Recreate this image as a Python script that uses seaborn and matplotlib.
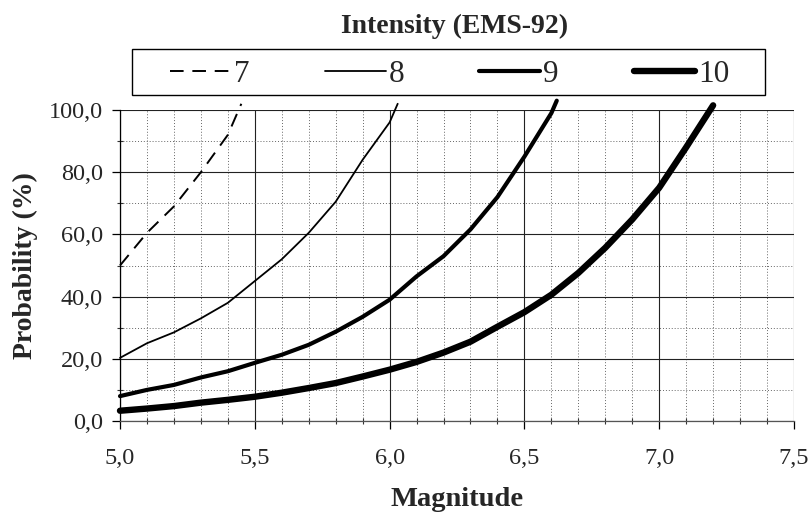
import matplotlib
matplotlib.use("Agg")
import matplotlib.pyplot as plt
from matplotlib.patches import Rectangle
from matplotlib.ticker import MultipleLocator, FuncFormatter
import seaborn as sns
import pandas as pd

# Probability (%) vs magnitude, one curve per EMS-92 intensity
mag7 = [5.0, 5.1, 5.2, 5.3, 5.4, 5.45]
p7 = [50, 60.5, 69, 80, 92, 102]

mag8 = [5.0, 5.1, 5.2, 5.3, 5.4, 5.5, 5.6, 5.7, 5.8, 5.9, 6.0, 6.03]
p8 = [20.3, 25, 28.5, 33, 38, 45, 52, 60.5, 70.5, 84, 96, 102]

mag9 = [5.0, 5.1, 5.2, 5.3, 5.4, 5.5, 5.6, 5.7, 5.8, 5.9, 6.0,
        6.1, 6.2, 6.3, 6.4, 6.5, 6.6, 6.62]
p9 = [8, 10, 11.6, 14, 16, 18.7, 21.3, 24.5, 28.7, 33.5, 39,
      46.5, 53, 61.6, 72, 85, 99, 103]

mag10 = [5.0, 5.1, 5.2, 5.3, 5.4, 5.5, 5.6, 5.7, 5.8, 5.9, 6.0,
         6.1, 6.2, 6.3, 6.4, 6.5, 6.6, 6.7, 6.8, 6.9, 7.0, 7.1, 7.2]
p10 = [3.3, 4, 4.8, 5.9, 6.8, 7.8, 9.1, 10.6, 12.2, 14.3, 16.5,
       19, 22, 25.5, 30.3, 35, 40.6, 47.6, 55.7, 64.8, 75, 88, 101.5]

labels = ["7", "8", "9", "10"]

sns.set_style("white")
plt.rcParams["font.family"] = ["Liberation Serif", "DejaVu Serif"]

W, H = 809, 512
fig = plt.figure(figsize=(W / 100, H / 100), dpi=100)
ax = fig.add_axes([120 / W, 1 - 421 / H, 674 / W, 311 / H])

series = [(mag7, p7, 1.4, (0, (7, 4.5))),
          (mag8, p8, 1.3, "-"),
          (mag9, p9, 3.0, "-"),
          (mag10, p10, 4.6, "-")]
for (m, p, lw, ls), lab in zip(series, labels):
    df = pd.DataFrame({"Magnitude": m, "Probability": p})
    sns.lineplot(data=df, x="Magnitude", y="Probability", ax=ax, color="black",
                 lw=lw, linestyle=ls, label=lab, clip_on=False, zorder=5,
                 solid_capstyle="round", solid_joinstyle="round")

ax.set_xlim(5.0, 7.5)
ax.set_ylim(0, 100)
ax.xaxis.set_major_locator(MultipleLocator(0.5))
ax.xaxis.set_minor_locator(MultipleLocator(0.1))
ax.yaxis.set_major_locator(MultipleLocator(20))
ax.yaxis.set_minor_locator(MultipleLocator(10))
comma = FuncFormatter(lambda v, _: f"{v:.1f}".replace(".", ","))
ax.xaxis.set_major_formatter(comma)
ax.yaxis.set_major_formatter(comma)

ax.grid(which="major", color="#222222", lw=0.8, ls="-")
ax.grid(which="minor", color="#666666", lw=0.7, ls=(0, (1, 2)))
ax.set_axisbelow(True)

for s in ["top", "right"]:
    ax.spines[s].set_visible(False)
ax.spines["left"].set_color("black")
ax.spines["left"].set_linewidth(0.9)
ax.spines["bottom"].set_color("#555555")
ax.spines["bottom"].set_linewidth(0.9)

ax.tick_params(axis="both", which="major", direction="out", length=5.5, width=0.9,
               color="black", labelsize=17.5, left=True, bottom=True)
ax.tick_params(axis="both", which="minor", direction="inout", length=5, width=0.8,
               color="#333333", left=True, bottom=True)
ax.tick_params(axis="x", which="major", pad=14)
ax.tick_params(axis="y", which="major", pad=7)

ax.set_xlabel("Magnitude", fontsize=20.5, fontweight="bold", va="baseline")
ax.xaxis.set_label_coords(0.5, (421 - 506.5) / 311)
ax.set_ylabel("Probability (%)", fontsize=20, fontweight="bold")
ax.yaxis.set_label_coords((38 - 120) / 674, 0.5)

fig.text(455 / W, 1 - 33 / H, "Intensity (EMS-92)", ha="center", va="baseline",
         fontsize=20, fontweight="bold")

leg = ax.legend(loc="center left", bbox_to_anchor=(170 / W, 1 - 74.5 / H),
                bbox_transform=fig.transFigure, ncol=4, fontsize=22.5,
                handlelength=1.95, handletextpad=0.1, columnspacing=2.4,
                borderpad=0, borderaxespad=0, frameon=False)
fig.patches.append(Rectangle((131.7 / W, 1 - 94.5 / H), (765 - 131.7) / W, 46 / H,
                             transform=fig.transFigure, fill=False,
                             edgecolor="black", lw=1.0))

fig.savefig("out.png", dpi=100, facecolor="white")
